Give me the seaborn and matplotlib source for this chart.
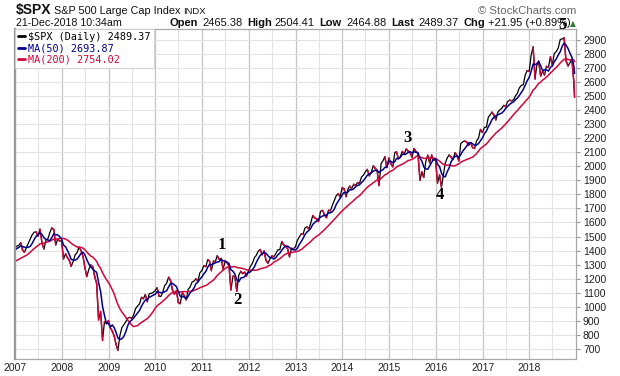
import calendar
import numpy as np
import pandas as pd
import matplotlib
matplotlib.use("Agg")
import matplotlib.pyplot as plt
import matplotlib.dates as mdates
from matplotlib.lines import Line2D
import seaborn as sns

# ---- data: S&P 500 closes, two readings per month (mid-month, month-end) ----
spx_2006 = [1297, 1295, 1289, 1311, 1291, 1270, 1256, 1270, 1236, 1277,
            1298, 1304, 1321, 1336, 1366, 1378, 1396, 1400, 1427, 1418]  # Mar-Dec
spx_2007 = [1431, 1438, 1456, 1407, 1387, 1421, 1452, 1482, 1512, 1531, 1533, 1503,
            1553, 1455, 1411, 1474, 1484, 1527, 1562, 1549, 1440, 1481, 1468, 1468]
spx_2008 = [1340, 1378, 1349, 1331, 1288, 1323, 1370, 1386, 1425, 1400, 1360, 1280,
            1215, 1267, 1298, 1283, 1213, 1166, 907, 968, 760, 896, 880, 903]
spx_2009 = [850, 826, 789, 735, 690, 798, 852, 873, 893, 919, 925, 919,
            940, 987, 1005, 1021, 1068, 1057, 1088, 1036, 1094, 1096, 1102, 1115]
spx_2010 = [1136, 1074, 1075, 1104, 1150, 1169, 1211, 1187, 1120, 1089, 1116, 1031,
            1022, 1102, 1080, 1049, 1125, 1141, 1176, 1183, 1200, 1181, 1242, 1258]
spx_2011 = [1293, 1286, 1336, 1327, 1257, 1326, 1320, 1364, 1337, 1345, 1268, 1321,
            1316, 1292, 1120, 1219, 1216, 1110, 1224, 1253, 1236, 1247, 1219, 1258]
spx_2012 = [1289, 1312, 1351, 1366, 1395, 1408, 1370, 1398, 1330, 1310, 1342, 1362,
            1356, 1379, 1405, 1407, 1465, 1441, 1433, 1412, 1355, 1416, 1413, 1426]
spx_2013 = [1472, 1498, 1519, 1515, 1560, 1569, 1553, 1597, 1650, 1631, 1626, 1606,
            1680, 1686, 1655, 1633, 1688, 1682, 1721, 1757, 1791, 1806, 1781, 1848]
spx_2014 = [1839, 1783, 1838, 1859, 1841, 1872, 1863, 1884, 1877, 1924, 1936, 1960,
            1978, 1931, 1955, 2003, 1985, 1972, 1862, 2018, 2039, 2068, 1990, 2059]
spx_2015 = [2019, 1995, 2097, 2104, 2053, 2068, 2106, 2086, 2123, 2107, 2096, 2063,
            2126, 2104, 2092, 1900, 1960, 1920, 2033, 2079, 2023, 2080, 2043, 2044]
spx_2016 = [1880, 1940, 1850, 1932, 2020, 2060, 2080, 2065, 2047, 2097, 2075, 2037,
            2161, 2174, 2180, 2171, 2147, 2168, 2133, 2126, 2180, 2199, 2262, 2239]
spx_2017 = [2275, 2279, 2349, 2364, 2385, 2363, 2329, 2384, 2400, 2412, 2433, 2423,
            2459, 2470, 2465, 2472, 2500, 2519, 2557, 2575, 2579, 2648, 2680, 2674]
spx_2018 = [2786, 2850, 2620, 2714, 2748, 2641, 2677, 2648, 2711, 2705, 2779, 2718,
            2801, 2816, 2840, 2902, 2905, 2914, 2750, 2712, 2737, 2760, 2600, 2489]

last_close = 2489.37
ma50_last = 2693.87
ma200_last = 2754.02

wave_labels = ["1", "2", "3", "4", "5"]
wave_dates = ["2011-06-05", "2011-10-08", "2015-05-29", "2016-02-02", "2018-09-20"]
wave_values = [1440, 1048, 2200, 1795, 3004]

year_ticks = list(range(2007, 2019))
price_ticks = list(range(700, 3000, 100))

# ---- build frame ----
close = (spx_2006 + spx_2007 + spx_2008 + spx_2009 + spx_2010 + spx_2011 + spx_2012
         + spx_2013 + spx_2014 + spx_2015 + spx_2016 + spx_2017 + spx_2018)
dates = []
for y in range(2006, 2019):
    for m in range(3 if y == 2006 else 1, 13):
        dates.append(pd.Timestamp(y, m, 15))
        dates.append(pd.Timestamp(y, m, calendar.monthrange(y, m)[1]))
dates[-1] = pd.Timestamp(2018, 12, 21)
df = pd.DataFrame({"date": dates, "close": close})
df["ma50"] = df["close"].rolling(5).mean()
df["ma200"] = df["close"].rolling(19).mean()
df = df[df["date"] >= "2006-12-15"].reset_index(drop=True)

# ---- style ----
sns.set_style("white")
plt.rcParams["font.family"] = ["Liberation Sans", "DejaVu Sans"]

RED = "#d1063b"
NAVY = "#00008b"

fig = plt.figure(figsize=(6.2, 3.76), dpi=100)
W, H = 620, 376
ax = fig.add_axes([15 / W, 1 - 359 / H, (576 - 15) / W, (359 - 29) / H])

# price: black base, down moves in red on top
sns.lineplot(data=df, x="date", y="close", color="black", lw=0.9, ax=ax)
xn = mdates.date2num(df["date"])
yv = df["close"].to_numpy(float)
dx, dy = [], []
for i in range(1, len(yv)):
    if yv[i] < yv[i - 1]:
        dx += [xn[i - 1], xn[i], np.nan]
        dy += [yv[i - 1], yv[i], np.nan]
ax.plot(dx, dy, color=RED, lw=1.1)
sns.lineplot(data=df, x="date", y="ma200", color=RED, lw=1.1, ax=ax)
sns.lineplot(data=df, x="date", y="ma50", color=NAVY, lw=1.1, ax=ax)

ax.set_xlim(pd.Timestamp("2007-01-01"), pd.Timestamp("2019-01-01"))
ax.set_ylim(629, 2976)
ax.set_xlabel("")
ax.set_ylabel("")

ax.yaxis.tick_right()
ax.set_yticks(price_ticks)
ax.set_yticklabels([str(v) for v in price_ticks], fontsize=7.5, color="#222222")
ax.tick_params(axis="y", which="both", right=True, length=3, width=0.8,
               color="#999999", pad=2)
ax.set_xticks([pd.Timestamp(y, 1, 1) for y in year_ticks])
ax.set_xticklabels([str(y) for y in year_ticks], fontsize=7.5, color="#222222")
ax.set_xticks([pd.Timestamp(y, 7, 1) for y in year_ticks], minor=True)
ax.tick_params(axis="x", which="both", length=0, pad=3)

ax.grid(axis="y", color="#e3e3e3", lw=0.8)
ax.grid(axis="x", which="major", color="#c4c4c4", lw=0.9)
ax.grid(axis="x", which="minor", color="#e3e3e3", lw=0.8)
ax.set_axisbelow(True)
for s in ax.spines.values():
    s.set_color("#a8a8a8")
    s.set_linewidth(0.9)
ax.spines["left"].set_linewidth(1.6)
ax.spines["left"].set_color("#999999")

# legend
handles = [Line2D([], [], color="black", lw=2),
           Line2D([], [], color=NAVY, lw=2),
           Line2D([], [], color=RED, lw=2)]
labels = [f"$SPX (Daily) {last_close:.2f}", f"MA(50) {ma50_last:.2f}",
          f"MA(200) {ma200_last:.2f}"]
leg = ax.legend(handles, labels, loc="upper left", bbox_to_anchor=(0, 1),
                borderaxespad=0, handlelength=0.7, handletextpad=0.3,
                labelspacing=0.12, borderpad=0.3, fancybox=False, framealpha=1,
                edgecolor="#cccccc", labelcolor="linecolor",
                prop={"family": "DejaVu Sans Mono", "size": 7.3})
leg.get_frame().set_linewidth(0.6)

# wave labels
for lab, d, v in zip(wave_labels, wave_dates, wave_values):
    ax.text(pd.Timestamp(d), v, lab, fontsize=12, fontweight="bold",
            family="Liberation Serif", ha="center", va="center", clip_on=False,
            color="black")

# header
def ft(px, py, s, **kw):
    fig.text(px / W, 1 - py / H, s, va="baseline", ha=kw.pop("ha", "left"), **kw)

ft(16, 14, "$SPX", fontsize=10, fontweight="bold", color="#111111")
ft(54, 14, "S&P 500 Large Cap Index", fontsize=7.8, color="#111111")
ft(183, 14, "INDX", fontsize=6.8, color="#111111")
ft(16, 26, "21-Dec-2018 10:34am", fontsize=7.7, color="#111111")
pieces = [(170, "Open", True), (202, "2465.38", False), (247, "High", True),
          (274, "2504.41", False), (319, "Low", True), (346, "2464.88", False),
          (391, "Last", True), (418, "2489.37", False), (463, "Chg", True),
          (488, "+21.95 (+0.89%)", False)]
for px, s, b in pieces:
    ft(px, 26, s, fontsize=8, fontweight="bold" if b else "normal", color="#111111")
ft(570, 26, "▲", fontsize=5.5, color="#2e7d32", family="DejaVu Sans")
ft(576, 14, "© StockCharts.com", fontsize=8.2, color="#666666", ha="right")

fig.savefig("out.png", dpi=100)
